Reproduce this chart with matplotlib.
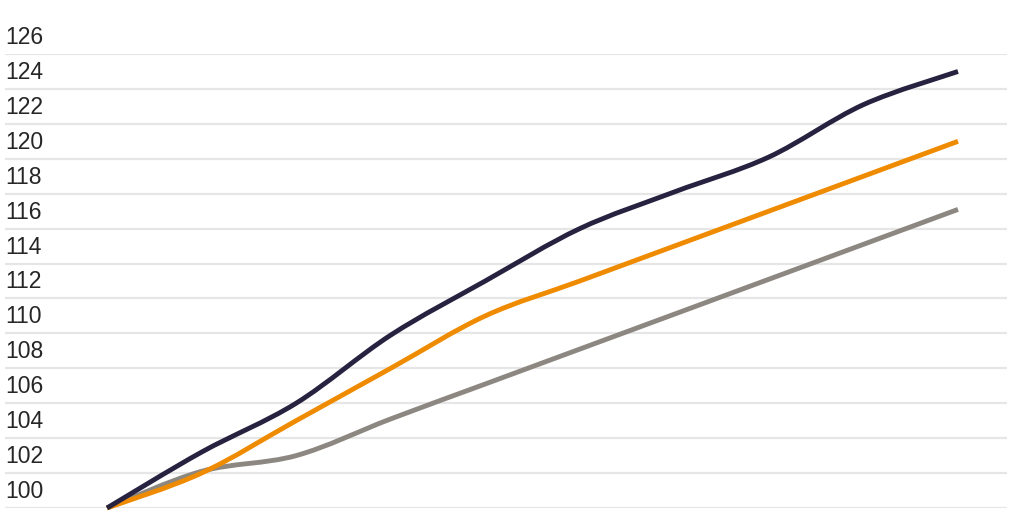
import numpy as np
import matplotlib
matplotlib.use("Agg")
import matplotlib.pyplot as plt
from matplotlib.path import Path
from matplotlib.patches import PathPatch
import matplotlib.transforms as mtransforms

# ---- data ----
x_idx = list(range(10))
series_dark = [100, 103.2, 106.0, 109.9, 113.0, 116.0, 118.1, 120.1, 123.1, 125.0]
series_orange = [100, 102.0, 105.0, 108.0, 111.0, 113.0, 115.0, 117.0, 119.0, 121.0]
series_gray = [100, 102.1, 103.0, 105.1, 107.1, 109.1, 111.1, 113.1, 115.1, 117.1]
y_ticks = [100, 102, 104, 106, 108, 110, 112, 114, 116, 118, 120, 122, 124, 126]

colors = {"dark": "#272240", "orange": "#ef8b00", "gray": "#8c8780"}

W, H = 1024, 512
fig = plt.figure(figsize=(W / 100, H / 100), dpi=100)
left, right = 5 / W, 1007 / W
bottom, top = (H - 508) / H, (H - 54) / H
ax = fig.add_axes([left, bottom, right - left, top - bottom])

px_per_unit = (958 - 107) / 9
ax.set_xlim(-(107 - 5) / px_per_unit, 9 + (1007 - 958) / px_per_unit)
ax.set_ylim(100, 126)

for s in ax.spines.values():
    s.set_visible(False)
ax.set_xticks([])
ax.set_yticks([])

for t in y_ticks:
    ax.axhline(t, color="#e6e6e6", lw=1.6, zorder=1)

label_tr = mtransforms.offset_copy(ax.get_yaxis_transform(), fig=fig, x=0, y=5, units="dots")
for t in y_ticks:
    ax.text(0, t, str(t), transform=label_tr, ha="left", va="bottom",
            fontsize=16.5, color="#262626", family=["Liberation Sans", "DejaVu Sans"])


def smooth_path(xs, ys, tension=1 / 6):
    xs = np.asarray(xs, float)
    ys = np.asarray(ys, float)
    n = len(xs)
    verts = [(xs[0], ys[0])]
    codes = [Path.MOVETO]
    for i in range(n - 1):
        p0 = i - 1 if i > 0 else i
        p3 = i + 2 if i + 2 < n else i + 1
        c1 = (xs[i] + (xs[i + 1] - xs[p0]) * tension, ys[i] + (ys[i + 1] - ys[p0]) * tension)
        c2 = (xs[i + 1] - (xs[p3] - xs[i]) * tension, ys[i + 1] - (ys[p3] - ys[i]) * tension)
        verts += [c1, c2, (xs[i + 1], ys[i + 1])]
        codes += [Path.CURVE4] * 3
    return Path(verts, codes)


for key, ys, z in [("gray", series_gray, 3), ("orange", series_orange, 4), ("dark", series_dark, 5)]:
    patch = PathPatch(smooth_path(x_idx, ys), facecolor="none", edgecolor=colors[key],
                      lw=3.5, capstyle="butt", joinstyle="round", zorder=z, clip_on=False)
    ax.add_patch(patch)

fig.savefig("out.png", dpi=100)
